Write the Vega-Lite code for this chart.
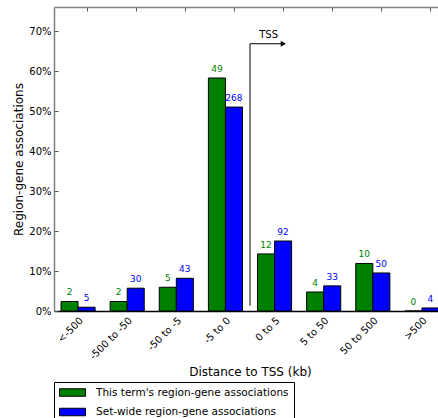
{
  "$schema": "https://vega.github.io/schema/vega-lite/v6.json",
  "width": 384,
  "height": 304,
  "autosize": {"type": "none"},
  "padding": {"left": 54, "top": 7, "right": 0, "bottom": 107},
  "config": {
    "font": "DejaVu Sans",
    "view": {"stroke": null},
    "axis": {"grid": false, "labelColor": "black", "titleColor": "black", "titleFontWeight": "normal"}
  },
  "datasets": {
    "bars": [
      {"region": "<-500", "series": "This term's region-gene associations", "count": 2, "pct": 2.38},
      {"region": "<-500", "series": "Set-wide region-gene associations", "count": 5, "pct": 0.95},
      {"region": "-500 to -50", "series": "This term's region-gene associations", "count": 2, "pct": 2.38},
      {"region": "-500 to -50", "series": "Set-wide region-gene associations", "count": 30, "pct": 5.71},
      {"region": "-50 to -5", "series": "This term's region-gene associations", "count": 5, "pct": 5.95},
      {"region": "-50 to -5", "series": "Set-wide region-gene associations", "count": 43, "pct": 8.19},
      {"region": "-5 to 0", "series": "This term's region-gene associations", "count": 49, "pct": 58.33},
      {"region": "-5 to 0", "series": "Set-wide region-gene associations", "count": 268, "pct": 51.05},
      {"region": "0 to 5", "series": "This term's region-gene associations", "count": 12, "pct": 14.29},
      {"region": "0 to 5", "series": "Set-wide region-gene associations", "count": 92, "pct": 17.52},
      {"region": "5 to 50", "series": "This term's region-gene associations", "count": 4, "pct": 4.76},
      {"region": "5 to 50", "series": "Set-wide region-gene associations", "count": 33, "pct": 6.29},
      {"region": "50 to 500", "series": "This term's region-gene associations", "count": 10, "pct": 11.9},
      {"region": "50 to 500", "series": "Set-wide region-gene associations", "count": 50, "pct": 9.52},
      {"region": ">500", "series": "This term's region-gene associations", "count": 0, "pct": 0},
      {"region": ">500", "series": "Set-wide region-gene associations", "count": 4, "pct": 0.76}
    ],
    "tss": [
      {"x": 4, "hx": 4.68, "y0": 1.33, "ya": 66.9, "tx": 4.38, "ty": 68.35, "label": "TSS"}
    ]
  },
  "layer": [
    {
      "data": {"name": "bars"},
      "mark": {"type": "bar", "stroke": "black", "strokeWidth": 1},
      "encoding": {
        "x": {
          "field": "region", "type": "nominal",
          "sort": ["<-500", "-500 to -50", "-50 to -5", "-5 to 0", "0 to 5", "5 to 50", "50 to 500", ">500"],
          "scale": {"range": [0, 392], "paddingInner": 0.306, "paddingOuter": 0.143},
          "axis": {
            "orient": "bottom", "title": "Distance to TSS (kb)", "labelAngle": -45,
            "labelAlign": "right", "labelBaseline": "top", "ticks": false, "bandPosition": 0.765,
            "domainColor": "black", "domainWidth": 1.5, "labelFontSize": 10, "labelPadding": 4,
            "titleFontSize": 12, "titlePadding": 5
          }
        },
        "xOffset": {
          "field": "series", "type": "nominal",
          "sort": ["This term's region-gene associations", "Set-wide region-gene associations"],
          "scale": {"paddingInner": 0, "paddingOuter": 0}
        },
        "y": {
          "field": "pct", "type": "quantitative", "title": "Region-gene associations",
          "scale": {"domain": [0, 76.1], "nice": false, "zero": true},
          "axis": {
            "values": [0, 10, 20, 30, 40, 50, 60, 70], "labelExpr": "datum.value + '%'",
            "tickSize": -4, "labelPadding": 7, "domainColor": "#808080", "domainWidth": 1.5,
            "tickColor": "#555555", "labelFontSize": 10, "titleFontSize": 12, "titlePadding": 3
          }
        },
        "color": {
          "field": "series", "type": "nominal",
          "scale": {
            "domain": ["This term's region-gene associations", "Set-wide region-gene associations"],
            "range": ["#008000", "#0000ff"]
          },
          "legend": {
            "orient": "none", "legendX": 0, "legendY": 375, "title": null,
            "strokeColor": "black", "fillColor": "white", "padding": 5, "cornerRadius": 0,
            "symbolType": "M-2.6,-0.75H2.6V0.75H-2.6Z", "symbolSize": 100,
            "symbolStrokeColor": "black", "symbolStrokeWidth": 1, "symbolOpacity": 1,
            "symbolOffset": 8, "labelOffset": 18, "labelFontSize": 10.5, "rowPadding": 6.5,
            "labelColor": "black", "labelLimit": 1000
          }
        }
      }
    },
    {
      "data": {"name": "bars"},
      "mark": {"type": "text", "baseline": "alphabetic", "dy": -6, "fontSize": 9},
      "encoding": {
        "x": {
          "field": "region", "type": "nominal",
          "sort": ["<-500", "-500 to -50", "-50 to -5", "-5 to 0", "0 to 5", "5 to 50", "50 to 500", ">500"],
          "scale": {"range": [0, 392], "paddingInner": 0.306, "paddingOuter": 0.143},
          "axis": {
            "orient": "top", "labels": false, "title": null, "ticks": true, "tickSize": -4,
            "bandPosition": 0.765, "domainColor": "#808080", "domainWidth": 1.5, "tickColor": "#555555"
          }
        },
        "xOffset": {
          "field": "series", "type": "nominal",
          "sort": ["This term's region-gene associations", "Set-wide region-gene associations"],
          "scale": {"paddingInner": 0, "paddingOuter": 0}
        },
        "y": {
          "field": "pct", "type": "quantitative", "title": "Region-gene associations",
          "scale": {"domain": [0, 76.1], "nice": false, "zero": true}
        },
        "text": {"field": "count", "type": "quantitative"},
        "color": {"field": "series", "type": "nominal", "legend": null}
      }
    },
    {
      "data": {"name": "tss"},
      "mark": {"type": "rule", "color": "#808080", "strokeWidth": 2},
      "encoding": {
        "x": {"field": "x", "type": "quantitative", "axis": null,
              "scale": {"domain": [0, 8], "range": [0, 392], "nice": false, "zero": false}},
        "y": {"field": "y0", "type": "quantitative", "title": "Region-gene associations",
              "scale": {"domain": [0, 76.1], "nice": false, "zero": true}},
        "y2": {"field": "ya"}
      }
    },
    {
      "data": {"name": "tss"},
      "mark": {"type": "rule", "color": "black", "strokeWidth": 1},
      "encoding": {
        "x": {"field": "x", "type": "quantitative", "axis": null,
              "scale": {"domain": [0, 8], "range": [0, 392], "nice": false, "zero": false}},
        "x2": {"field": "hx"},
        "y": {"field": "ya", "type": "quantitative", "title": "Region-gene associations",
              "scale": {"domain": [0, 76.1], "nice": false, "zero": true}}
      }
    },
    {
      "data": {"name": "tss"},
      "mark": {"type": "point", "shape": "triangle-right", "filled": true, "color": "black", "size": 36, "opacity": 1},
      "encoding": {
        "x": {"field": "hx", "type": "quantitative", "axis": null,
              "scale": {"domain": [0, 8], "range": [0, 392], "nice": false, "zero": false}},
        "y": {"field": "ya", "type": "quantitative", "title": "Region-gene associations",
              "scale": {"domain": [0, 76.1], "nice": false, "zero": true}}
      }
    },
    {
      "data": {"name": "tss"},
      "mark": {"type": "text", "baseline": "alphabetic", "align": "center", "fontSize": 10, "color": "black"},
      "encoding": {
        "x": {"field": "tx", "type": "quantitative", "axis": null,
              "scale": {"domain": [0, 8], "range": [0, 392], "nice": false, "zero": false}},
        "y": {"field": "ty", "type": "quantitative", "title": "Region-gene associations",
              "scale": {"domain": [0, 76.1], "nice": false, "zero": true}},
        "text": {"field": "label", "type": "nominal"}
      }
    }
  ],
  "resolve": {"scale": {"x": "independent"}, "axis": {"x": "independent"}}
}
